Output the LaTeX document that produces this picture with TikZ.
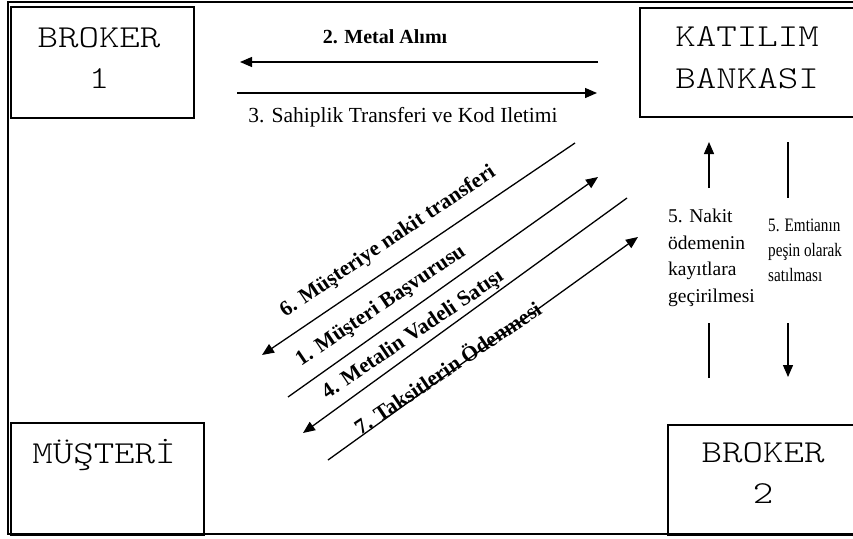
\documentclass[tikz,border=0pt]{standalone}
\usepackage{fontspec}
\setmainfont{Liberation Serif}
\newfontfamily\boxfont{lmmonolt10-regular.otf}
\usetikzlibrary{arrows.meta}
\newcommand{\bx}[1]{\scalebox{1.22}[1]{#1}}
\begin{document}
\begin{tikzpicture}[x=1pt,y=-1pt,
  box/.style={draw, line width=1.8pt, inner sep=0pt, anchor=north west},
  boxtext/.style={font=\boxfont\fontsize{32}{36}\selectfont, inner sep=0pt, anchor=base},
  arr/.style={line width=1.3pt, -{Triangle[length=12pt,width=10pt]}},
  ln/.style={line width=1.3pt},
  hlab/.style={font=\fontsize{21.5}{24}\selectfont, inner sep=0pt},
  dlab/.style={font=\bfseries\fontsize{21.5}{24}\selectfont, inner sep=0pt, rotate=34},
  vlab/.style={font=\fontsize{19.5}{26.5}\selectfont, align=left, inner sep=0pt, anchor=north west},
]
\clip (0,0) rectangle (853,538);
\useasboundingbox (0,0) rectangle (853,538);
% outer frame
\draw[line width=2pt] (7.5,2) rectangle (880,534);
% boxes
\node[box, minimum width=183pt, minimum height=111pt] (b1) at (10,6) {};
\node[box, minimum width=240pt, minimum height=109pt] (kb) at (639,7) {};
\node[box, minimum width=193pt, minimum height=112pt] (mu) at (10,422) {};
\node[box, minimum width=220pt, minimum height=110pt] (b2) at (667,424) {};
% box texts
\node[boxtext] (b1t) at (99,47) {\bx{BROKER}};
\node[boxtext] (b1n) at (99,88) {\bx{1}};
\node[boxtext] (kt1) at (747,46) {\bx{KATILIM}};
\node[boxtext] (kt2) at (747,88) {\bx{BANKASI}};
\node[boxtext] (mut) at (104,463) {\bx{MÜŞTERİ}};
\node[boxtext] (b2t) at (763,462) {\bx{BROKER}};
\node[boxtext] (b2n) at (763,503) {\bx{2}};
% horizontal arrows
\coordinate (h2s) at (598,62); \coordinate (h2e) at (240,62);
\coordinate (h3s) at (237,93); \coordinate (h3e) at (597,93);
\draw[arr] (h2s) -- (h2e);
\draw[arr] (h3s) -- (h3e);
\node[hlab, font=\bfseries\fontsize{20}{24}\selectfont] (l2) at (385,37) {2. Metal Alımı};
\node[hlab] (l3) at (403,117) {3. Sahiplik Transferi ve Kod Iletimi};
% diagonal arrows
\coordinate (d6s) at (575,143); \coordinate (d6e) at (262,355);
\coordinate (d1s) at (288,397); \coordinate (d1e) at (598,177);
\coordinate (d4s) at (627,198); \coordinate (d4e) at (303,433);
\coordinate (d7s) at (328,460); \coordinate (d7e) at (638,237);
\draw[arr] (d6s) -- (d6e);
\draw[arr] (d1s) -- (d1e);
\draw[arr] (d4s) -- (d4e);
\draw[arr] (d7s) -- (d7e);
\node[dlab] (l6) at (388,242) {6. Müşteriye nakit transferi};
\node[dlab] (l1) at (381,306) {1. Müşteri Başvurusu};
\node[dlab] (l4) at (413,335) {4. Metalin Vadeli Satışı};
\node[dlab] (l7) at (447,367) {7. Taksitlerin Ödenmesi};
% vertical arrows
\coordinate (va1) at (709,378); \coordinate (va2) at (709,323);
\coordinate (va3) at (709,188); \coordinate (va4) at (709,142);
\draw[ln] (va1) -- (va2);
\draw[arr] (va3) -- (va4);
\coordinate (vb1) at (788,142); \coordinate (vb2) at (788,198);
\coordinate (vb3) at (788,323); \coordinate (vb4) at (788,377);
\draw[ln] (vb1) -- (vb2);
\draw[arr] (vb3) -- (vb4);
\node[vlab] (l5a) at (668,209) {5. Nakit\\ödemenin\\kayıtlara\\geçirilmesi};
\node[vlab, font=\fontsize{19}{25}\selectfont] (l5b) at (768,219) {\scalebox{0.8}[1]{5. Emtianın}\\\scalebox{0.8}[1]{peşin olarak}\\\scalebox{0.8}[1]{satılması}};
\end{tikzpicture}
\end{document}
